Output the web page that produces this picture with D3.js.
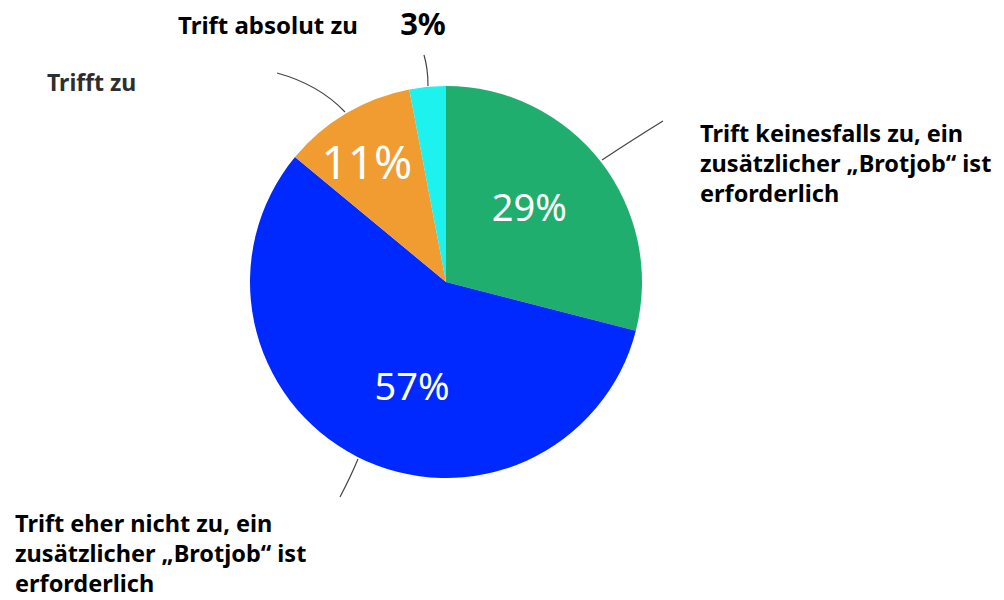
<!DOCTYPE html>
<html lang="de">
<head>
    <meta charset="UTF-8">
    <title>Brotjob</title>
    <script src="https://cdnjs.cloudflare.com/ajax/libs/d3/7.8.5/d3.min.js"></script>
    <style>
        body {
            margin: 0;
            background-color: #fff;
        }

        svg {
            display: block;
            font-family: "Noto Sans", sans-serif;
        }
    </style>
</head>
<body>
<svg width="1004" height="600"></svg>

<script>
    // Data
    const categories = [
        "Trift keinesfalls zu, ein zusätzlicher „Brotjob“ ist erforderlich",
        "Trift eher nicht zu, ein zusätzlicher „Brotjob“ ist erforderlich",
        "Trifft zu",
        "Trift absolut zu"
    ];
    const shares = [29, 57, 11, 3];
    const colors = ["#20ae6f", "#0029ff", "#f19c31", "#1ef2ee"];

    // layout of the labels, one entry per slice
    const labelLines = [
        ["Trift keinesfalls zu, ein", "zusätzlicher „Brotjob“ ist", "erforderlich"],
        ["Trift eher nicht zu, ein", "zusätzlicher „Brotjob“ ist", "erforderlich"],
        ["Trifft zu"],
        ["Trift absolut zu"]
    ];
    const labelAnchor = [[700, 142], [15, 532], [47, 91], [178, 34]];
    const labelSize = [23.5, 23.5, 23, 24];
    const pctInside = [true, true, true, false];
    const pctSize = [38, 38, 46, 0];
    const pctRadius = [0.57, 0.56, 0.73, 0];
    const pctShift = [-4, -9, -3, 0];   // degrees
    const leaderFrom = [[602, 160], [358, 459], [345, 112], [428, 86]];
    const leaderTo = [[663, 121], [340, 497], [277, 73], [424, 55]];

    const svg = d3.select("svg");
    const cx = 446, cy = 282, radius = 196;

    const pie = d3.pie().sort(null).value(d => d);
    const arcs = pie(shares);
    const arc = d3.arc().innerRadius(0).outerRadius(radius);

    const g = svg.append("g").attr("transform", `translate(${cx},${cy})`);

    g.selectAll("path")
        .data(arcs)
        .enter()
        .append("path")
        .attr("d", arc)
        .attr("fill", (d, i) => colors[i]);

    // percentages inside the slices
    g.selectAll("text.pct")
        .data(arcs.filter((d, i) => pctInside[i]))
        .enter()
        .append("text")
        .attr("class", "pct")
        .each(function (d) {
            const i = d.index;
            const a = (d.startAngle + d.endAngle) / 2 + pctShift[i] * Math.PI / 180;
            const r = radius * pctRadius[i];
            d3.select(this)
                .attr("x", r * Math.sin(a))
                .attr("y", -r * Math.cos(a) + pctSize[i] * 0.36)
                .attr("font-size", pctSize[i]);
        })
        .attr("text-anchor", "middle")
        .attr("fill", "#fff")
        .text(d => d.data + "%");

    // leader lines, slightly bent
    svg.selectAll("path.leader")
        .data(arcs)
        .enter()
        .append("path")
        .attr("class", "leader")
        .attr("d", (d, i) => {
            const [x0, y0] = leaderFrom[i], [x1, y1] = leaderTo[i];
            const mx = (x0 + x1) / 2, my = (y0 + y1) / 2;
            const bend = i === 2 ? 8 : 2;
            return `M${x0},${y0}Q${mx + bend},${my - bend} ${x1},${y1}`;
        })
        .attr("fill", "none")
        .attr("stroke", "#444")
        .attr("stroke-width", 1.2);

    // category labels
    labelLines.forEach((lines, i) => {
        const t = svg.append("text")
            .attr("x", labelAnchor[i][0])
            .attr("y", labelAnchor[i][1])
            .attr("font-size", labelSize[i])
            .attr("font-weight", "bold")
            .attr("fill", i === 2 ? "#2e2e2e" : "#000");
        lines.forEach((line, j) => {
            t.append("tspan")
                .attr("x", labelAnchor[i][0])
                .attr("dy", j === 0 ? 0 : 30)
                .text(line);
        });
    });

    // outside percentage for the smallest slice
    svg.append("text")
        .attr("x", 423)
        .attr("y", 35)
        .attr("text-anchor", "middle")
        .attr("font-size", 31)
        .attr("font-weight", "bold")
        .attr("fill", "#000")
        .text(shares[3] + "%");
</script>
</body>
</html>
